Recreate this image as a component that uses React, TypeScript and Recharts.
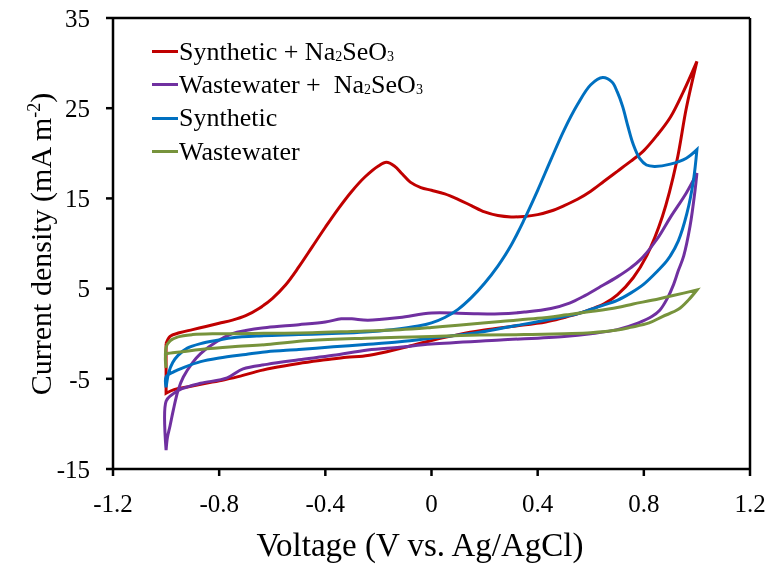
import React from 'react';
import { LineChart, Line, XAxis, YAxis, ReferenceLine, Label } from 'recharts';

const FONT = '"Liberation Serif", "Times New Roman", Times, serif';

const xTicks = [-1.2, -0.8, -0.4, 0, 0.4, 0.8, 1.2];
const yTicks = [-15, -5, 5, 15, 25, 35];

// Synthetic + Na2SeO3 (red)
const synNaV = [
  -1.0, -0.985, -0.95, -0.9, -0.85, -0.8, -0.75, -0.7, -0.65, -0.6, -0.55, -0.5, -0.45, -0.4, -0.35, -0.3,
  -0.25, -0.2, -0.17, -0.14, -0.11, -0.08, -0.04, 0.0, 0.05, 0.1, 0.15, 0.2, 0.25, 0.3, 0.35, 0.4, 0.45,
  0.5, 0.55, 0.6, 0.65, 0.7, 0.75, 0.8, 0.85, 0.9, 0.95, 1.0,
  0.96, 0.924, 0.87, 0.81, 0.76, 0.7, 0.65, 0.6, 0.55, 0.5, 0.43, 0.3, 0.2, 0.1, 0.0, -0.1, -0.2, -0.26,
  -0.32, -0.4, -0.5, -0.6, -0.66, -0.72, -0.78, -0.85, -0.92, -0.97, -1.0, -1.0,
];
const synNaI = [
  -1.1, -0.3, 0.1, 0.45, 0.8, 1.15, 1.5, 2.0, 2.8, 3.9, 5.4, 7.4, 9.6, 11.8, 13.9, 15.8,
  17.4, 18.6, 19.0, 18.6, 17.7, 16.8, 16.2, 15.9, 15.5, 14.9, 14.2, 13.5, 13.1, 12.95, 13.0, 13.2, 13.6,
  14.2, 14.9, 15.8, 16.9, 18.0, 19.1, 20.3, 22.0, 24.0, 26.9, 30.2,
  25.0, 19.1, 13.0, 8.6, 6.2, 4.3, 3.3, 2.7, 2.2, 1.8, 1.3, 0.8, 0.4, -0.1, -0.75, -1.5, -2.2, -2.5,
  -2.6, -2.9, -3.3, -3.8, -4.2, -4.7, -5.1, -5.5, -5.9, -6.2, -6.6, -1.1,
];

// Wastewater + Na2SeO3 (purple)
const wwNaV = [
  -1.0, -0.995, -0.985, -0.973, -0.955, -0.935, -0.9, -0.87, -0.81, -0.75, -0.7, -0.62, -0.5, -0.4, -0.34,
  -0.3, -0.24, -0.12, 0.0, 0.13, 0.26, 0.35, 0.45, 0.52, 0.57, 0.63, 0.7, 0.75, 0.79, 0.85, 0.9, 0.96, 1.0,
  0.993, 0.974, 0.95, 0.93, 0.91, 0.89, 0.86, 0.83, 0.78, 0.7, 0.6, 0.5, 0.26, 0.0, -0.12, -0.24, -0.37,
  -0.5, -0.62, -0.71, -0.77, -0.87, -0.94, -0.98, -1.0, -1.0,
];
const wwNaI = [
  -12.9, -11.5, -10.2, -8.5, -6.3, -4.8, -3.2, -2.2, -0.9, 0.0, 0.35, 0.7, 1.0, 1.3, 1.65,
  1.65, 1.5, 1.8, 2.3, 2.25, 2.2, 2.4, 2.8, 3.4, 4.1, 5.1, 6.3, 7.3, 8.3, 10.5, 12.9, 15.6, 17.8,
  15.9, 11.9, 8.6, 7.0, 5.3, 4.0, 2.6, 1.9, 1.2, 0.45, 0.0, -0.3, -0.7, -1.15, -1.5, -1.8, -2.4,
  -2.9, -3.4, -3.9, -4.9, -5.5, -6.1, -6.8, -7.5, -12.9,
];

// Synthetic (blue)
const synV = [
  -1.0, -0.99, -0.975, -0.955, -0.92, -0.87, -0.8, -0.75, -0.65, -0.5, -0.35, -0.25, -0.15, -0.05, 0.0,
  0.05, 0.1, 0.15, 0.2, 0.25, 0.3, 0.35, 0.4, 0.45, 0.5, 0.55, 0.6, 0.645, 0.68, 0.7, 0.72, 0.74, 0.76,
  0.785, 0.81, 0.84, 0.9, 0.96, 1.0,
  0.987, 0.962, 0.93, 0.89, 0.85, 0.8, 0.75, 0.7, 0.63, 0.56, 0.43, 0.3, 0.18, 0.0, -0.12, -0.25, -0.37,
  -0.5, -0.62, -0.7, -0.8, -0.87, -0.93, -0.97, -1.0, -1.0,
];
const synI = [
  -5.95, -4.3, -3.2, -2.4, -1.6, -1.1, -0.7, -0.45, -0.25, -0.1, 0.05, 0.2, 0.45, 0.85, 1.2,
  1.8, 2.7, 4.0, 5.6, 7.5, 9.8, 12.7, 15.9, 19.3, 22.6, 25.4, 27.6, 28.4, 27.9, 26.8, 25.2, 23.0, 21.0,
  19.4, 18.7, 18.55, 18.8, 19.45, 20.4,
  17.0, 13.3, 10.3, 8.2, 6.9, 5.5, 4.5, 3.7, 3.0, 2.3, 1.5, 0.8, 0.15, -0.5, -0.9, -1.2, -1.45,
  -1.75, -2.0, -2.3, -2.7, -3.1, -3.7, -4.2, -4.8, -5.95,
];

// Wastewater (green)
const wwV = [
  -1.0, -1.0, -0.985, -0.955, -0.9, -0.8, -0.6, -0.45, -0.3, -0.12, 0.0, 0.1, 0.26, 0.4, 0.51, 0.6, 0.7,
  0.76, 0.83, 0.89, 0.95, 1.0,
  0.97, 0.93, 0.87, 0.82, 0.75, 0.7, 0.6, 0.5, 0.35, 0.18, 0.0, -0.12, -0.25, -0.46, -0.62, -0.75, -0.87,
  -0.94, -0.985, -1.0, -1.0,
];
const wwI = [
  -3.8, -1.5, -0.8, -0.35, -0.1, 0.0, 0.05, 0.1, 0.25, 0.45, 0.7, 0.95, 1.35, 1.7, 2.1, 2.45, 2.9,
  3.3, 3.7, 4.1, 4.5, 4.85,
  3.8, 2.7, 1.9, 1.2, 0.7, 0.4, 0.1, 0.0, -0.1, -0.15, -0.3, -0.4, -0.5, -0.75, -1.2, -1.45, -1.75,
  -2.0, -2.15, -2.3, -3.8,
];

const seriesNames = ['Synthetic + Na2SeO3', 'Wastewater +  Na2SeO3', 'Synthetic', 'Wastewater'];
const seriesColors = ['#C00000', '#7030A0', '#0070C0', '#77933C'];

const toPoints = (v: number[], c: number[]) => v.map((x, k) => ({ v: x, i: c[k] }));
const seriesData = [
  toPoints(synNaV, synNaI),
  toPoints(wwNaV, wwNaI),
  toPoints(synV, synI),
  toPoints(wwV, wwI),
];

// Centripetal Catmull-Rom curve that keeps sharp corners at sweep reversals
function smoothCurve(context: any) {
  let pts: number[][] = [];
  return {
    areaStart() {},
    areaEnd() {},
    lineStart() {
      pts = [];
    },
    point(x: number, y: number) {
      pts.push([+x, +y]);
    },
    lineEnd() {
      const n = pts.length;
      if (!n) return;
      context.moveTo(pts[0][0], pts[0][1]);
      if (n === 1) return;
      const corner = pts.map((p, k) => {
        if (k === 0 || k === n - 1) return true;
        const ax = p[0] - pts[k - 1][0], ay = p[1] - pts[k - 1][1];
        const bx = pts[k + 1][0] - p[0], by = pts[k + 1][1] - p[1];
        const la = Math.hypot(ax, ay), lb = Math.hypot(bx, by);
        if (la < 1e-6 || lb < 1e-6) return true;
        return (ax * bx + ay * by) / (la * lb) < 0.2;
      });
      for (let k = 0; k < n - 1; k++) {
        const p1 = pts[k], p2 = pts[k + 1];
        const p0 = corner[k] ? null : pts[k - 1];
        const p3 = corner[k + 1] ? null : pts[k + 2];
        const d12 = Math.hypot(p2[0] - p1[0], p2[1] - p1[1]);
        const l12a = Math.sqrt(d12);
        const l12_2a = d12;
        let c1 = p1;
        let c2 = p2;
        if (p0 && d12 > 1e-6) {
          const d01 = Math.hypot(p1[0] - p0[0], p1[1] - p0[1]);
          const la = Math.sqrt(d01);
          if (la > 1e-6) {
            const A = 2 * d01 + 3 * la * l12a + l12_2a;
            const N = 3 * la * (la + l12a);
            c1 = [
              (p1[0] * A - p0[0] * l12_2a + p2[0] * d01) / N,
              (p1[1] * A - p0[1] * l12_2a + p2[1] * d01) / N,
            ];
          }
        }
        if (p3 && d12 > 1e-6) {
          const d23 = Math.hypot(p3[0] - p2[0], p3[1] - p2[1]);
          const la = Math.sqrt(d23);
          if (la > 1e-6) {
            const B = 2 * d23 + 3 * la * l12a + l12_2a;
            const M = 3 * la * (la + l12a);
            c2 = [
              (p2[0] * B + p1[0] * d23 - p3[0] * l12_2a) / M,
              (p2[1] * B + p1[1] * d23 - p3[1] * l12_2a) / M,
            ];
          }
        }
        context.bezierCurveTo(c1[0], c1[1], c2[0], c2[1], p2[0], p2[1]);
      }
    },
  };
}

const renderName = (name: string) => {
  const parts = name.split(/(\d)/);
  return parts.map((p, k) =>
    /\d/.test(p) ? (
      <span key={k} style={{ fontSize: 14, position: 'relative', top: 1 }}>
        {p}
      </span>
    ) : (
      <span key={k}>{p}</span>
    )
  );
};

const XTitle = () => (
  <text x={412} y={556} textAnchor="middle" fontSize={33} fontFamily={FONT} fill="#000">
    Voltage (V vs. Ag/AgCl)
  </text>
);

const YTitle = () => (
  <text
    x={43}
    y={244}
    transform="rotate(-90, 43, 244)"
    textAnchor="middle"
    fontSize={30}
    fontFamily={FONT}
    fill="#000"
  >
    Current density (mA m
    <tspan dy={-11} fontSize={18}>
      -2
    </tspan>
    <tspan dy={11}>)</tspan>
  </text>
);

export default function App() {
  return (
    <div style={{ position: 'fixed', left: 8, top: 0, width: 761, height: 566 }}>
      <LineChart width={761} height={566} margin={{ top: 18, right: 19, bottom: 0, left: 0 }}>
        <XAxis
          type="number"
          dataKey="v"
          domain={[-1.2, 1.2]}
          ticks={xTicks}
          interval={0}
          allowDataOverflow
          height={97}
          tickSize={7}
          tickMargin={18}
          tickFormatter={(t: number) => String(t)}
          axisLine={{ stroke: '#000', strokeWidth: 2.5 }}
          tickLine={{ stroke: '#000', strokeWidth: 2.5 }}
          tick={{ fill: '#000', fontSize: 25, fontFamily: FONT }}
        >
          <Label content={XTitle} />
        </XAxis>
        <YAxis
          type="number"
          domain={[-15, 35]}
          ticks={yTicks}
          interval={0}
          allowDataOverflow
          width={105}
          tickSize={7}
          tickMargin={16}
          axisLine={{ stroke: '#000', strokeWidth: 2.5 }}
          tickLine={{ stroke: '#000', strokeWidth: 2.5 }}
          tick={{ fill: '#000', fontSize: 25, fontFamily: FONT }}
        >
          <Label content={YTitle} />
        </YAxis>
        <ReferenceLine y={35} stroke="#000" strokeWidth={2.5} />
        <ReferenceLine x={1.2} stroke="#000" strokeWidth={2.5} />
        {seriesData.map((d, k) => (
          <Line
            key={seriesNames[k]}
            data={d}
            dataKey="i"
            name={seriesNames[k]}
            type={smoothCurve as any}
            stroke={seriesColors[k]}
            strokeWidth={3}
            dot={false}
            activeDot={false}
            isAnimationActive={false}
          />
        ))}
      </LineChart>
      <div
        style={{
          position: 'absolute',
          left: 144,
          top: 35,
          fontFamily: FONT,
          fontSize: 26,
          color: '#000',
        }}
      >
        {seriesNames.map((name, k) => (
          <div key={name} style={{ display: 'flex', alignItems: 'center', height: 33.3, whiteSpace: 'pre' }}>
            <span
              style={{ display: 'inline-block', width: 26, height: 3, background: seriesColors[k], marginRight: 1 }}
            />
            <span>{renderName(name)}</span>
          </div>
        ))}
      </div>
    </div>
  );
}
